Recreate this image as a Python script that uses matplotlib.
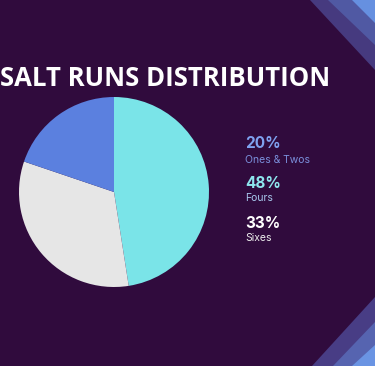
import matplotlib.pyplot as plt
from matplotlib.patches import Polygon

# data
labels = ['Fours', 'Sixes', 'Ones & Twos']
shares = [48, 33, 20]
slice_colors = ['#7ae4e8', '#e6e6e6', '#5b80df']

# legend entries on the right (top to bottom)
legend_pct = ['20%', '48%', '33%']
legend_names = ['Ones & Twos', 'Fours', 'Sixes']
pct_colors = ['#7fa2f0', '#8ee6ee', '#ffffff']
name_colors = ['#7b90dc', '#a9c9ee', '#ececec']

bg = '#300b3d'

fig = plt.figure(figsize=(3.75, 3.66), dpi=100)
fig.patch.set_facecolor(bg)

# corner stripes, figure pixel coords converted to fractions
W, H = 375.0, 366.0
def fpoly(pts, color):
    p = Polygon([(x / W, 1 - y / H) for x, y in pts], closed=True,
                transform=fig.transFigure, facecolor=color, edgecolor='none')
    fig.patches.append(p)

fpoly([(310, 0), (375, 0), (375, 70)], '#463a7f')
fpoly([(328, 0), (375, 0), (375, 45)], '#5059a3')
fpoly([(352, 0), (375, 0), (375, 23)], '#6690e0')

fpoly([(312, 366), (375, 366), (375, 297)], '#483d85')
fpoly([(333, 366), (375, 366), (375, 322)], '#5664b0')
fpoly([(352, 366), (375, 366), (375, 345)], '#6a94e3')

# pie
ax = fig.add_axes([19 / W, 1 - 287 / H, 190 / W, 190 / H])
ax.set_facecolor(bg)
ax.pie(shares, colors=slice_colors, startangle=90, counterclock=False,
       wedgeprops={'linewidth': 0})
ax.set_xlim(-1, 1)
ax.set_ylim(-1, 1)
ax.set_aspect('equal')
ax.axis('off')

# title
fig.text(0.5 / W, 1 - 79 / H, 'SALT RUNS DISTRIBUTION', color='white',
         fontsize=18.5, fontweight='bold', family='Open Sans',
         ha='left', va='center')

# legend text
pct_y = [143, 183, 224]
name_y = [160, 198, 238]
for i in range(3):
    fig.text(245 / W, 1 - pct_y[i] / H, legend_pct[i], color=pct_colors[i],
             fontsize=11, fontweight='bold', family='Inter', ha='left', va='center')
    fig.text(245 / W, 1 - name_y[i] / H, legend_names[i], color=name_colors[i],
             fontsize=7.5, family='Inter', ha='left', va='center')

fig.savefig('out.png', dpi=100, facecolor=bg)
